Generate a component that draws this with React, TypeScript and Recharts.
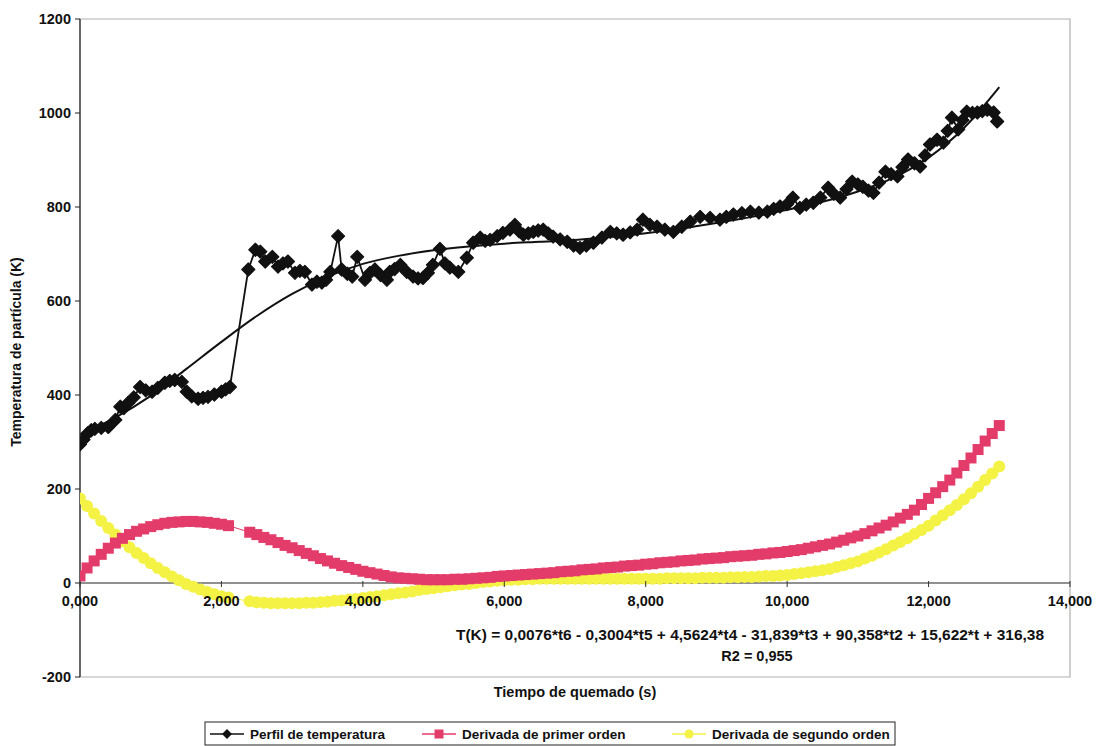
import React from 'react';
import { LineChart, Line, XAxis, YAxis, ReferenceLine, ReferenceArea } from 'recharts';

// ---- data (time in thousands of seconds, temperature in K) ----
const profileTime = [0.00,0.05,0.11,0.16,0.21,0.30,0.40,0.50,0.57,0.62,0.68,0.76,0.85,0.93,1.02,1.10,1.20,1.27,1.34,1.44,1.51,1.58,1.67,1.74,1.81,1.90,2.00,2.06,2.12,2.38,2.48,2.55,2.62,2.72,2.80,2.87,2.94,3.04,3.11,3.18,3.28,3.35,3.42,3.48,3.54,3.65,3.70,3.78,3.85,3.92,4.03,4.10,4.17,4.25,4.34,4.38,4.45,4.53,4.62,4.71,4.78,4.85,4.92,4.99,5.09,5.16,5.23,5.35,5.47,5.56,5.66,5.73,5.80,5.90,5.98,6.08,6.15,6.21,6.27,6.34,6.41,6.48,6.55,6.62,6.69,6.79,6.89,6.98,7.07,7.16,7.26,7.38,7.50,7.59,7.68,7.78,7.88,7.96,8.06,8.16,8.27,8.39,8.51,8.63,8.77,8.91,9.05,9.14,9.24,9.36,9.48,9.60,9.72,9.81,9.90,10.00,10.08,10.18,10.27,10.37,10.47,10.58,10.66,10.75,10.84,10.92,11.00,11.07,11.15,11.22,11.30,11.39,11.47,11.56,11.63,11.71,11.80,11.88,11.95,12.02,12.12,12.21,12.27,12.33,12.42,12.48,12.54,12.62,12.69,12.76,12.83,12.92,12.97];
const profileTemp = [295,305,319,325,328,330,332,347,375,372,383,395,417,410,407,415,426,430,432,428,407,397,392,394,396,401,407,412,417,667,709,705,684,694,673,680,684,660,664,662,635,641,639,645,662,738,667,658,652,694,645,660,667,655,645,662,668,677,662,652,648,649,660,677,711,680,671,662,692,724,735,728,730,738,745,752,762,748,741,744,747,750,752,744,737,731,726,718,713,718,724,735,747,744,741,746,752,773,762,758,752,747,758,769,779,777,773,779,784,787,790,788,790,796,801,806,820,798,805,809,820,841,828,820,838,854,848,843,835,830,852,875,870,865,885,901,893,886,910,933,943,937,962,990,965,985,1003,1000,1001,1004,1007,1001,982];

const trendTime = [0,0.5,1,1.5,2,2.5,3,3.5,4,4.5,5,5.5,6,6.5,7,7.5,8,8.5,9,9.5,10,10.5,11,11.5,12,12.5,13];
const trendTemp = [316,352,398,455,513,568,615,652,679,696,708,716,722,726,730,736,744,754,766,779,794,811,833,862,905,968,1055];

const derivTime = [0,0.1,0.2,0.3,0.4,0.5,0.6,0.7,0.8,0.9,1.0,1.1,1.2,1.3,1.4,1.5,1.6,1.7,1.8,1.9,2.0,2.1,2.4,2.5,2.6,2.7,2.8,2.9,3.0,3.1,3.2,3.3,3.4,3.5,3.6,3.7,3.8,3.9,4.0,4.1,4.2,4.3,4.4,4.5,4.6,4.7,4.8,4.9,5.0,5.1,5.2,5.3,5.4,5.5,5.6,5.7,5.8,5.9,6.0,6.1,6.2,6.3,6.4,6.5,6.6,6.7,6.8,6.9,7.0,7.1,7.2,7.3,7.4,7.5,7.6,7.7,7.8,7.9,8.0,8.1,8.2,8.3,8.4,8.5,8.6,8.7,8.8,8.9,9.0,9.1,9.2,9.3,9.4,9.5,9.6,9.7,9.8,9.9,10.0,10.1,10.2,10.3,10.4,10.5,10.6,10.7,10.8,10.9,11.0,11.1,11.2,11.3,11.4,11.5,11.6,11.7,11.8,11.9,12.0,12.1,12.2,12.3,12.4,12.5,12.6,12.7,12.8,12.9,13.0];
const firstDeriv = [15,32,47,61,74,85,95,103,110,115,120,124,127,129,130,131,131,130,129,127,125,122,108,103,97,92,86,80,75,69,63,58,52,47,42,37,33,29,25,22,19,16,13,11,10,9,8,7,7,7,7,8,8,9,10,11,12,14,15,16,17,18,19,20,21,22,24,25,26,28,29,30,32,33,34,36,37,38,40,41,43,44,45,47,48,49,51,52,53,54,56,57,58,59,61,62,64,65,67,69,71,74,77,80,83,87,91,96,100,105,111,117,123,130,138,146,155,167,180,192,205,219,234,250,266,284,302,318,335];
const secondDeriv = [180,164,148,132,117,103,89,76,64,53,42,32,23,14,6,-2,-8,-14,-19,-24,-28,-31,-39,-41,-42,-43,-43,-43,-43,-43,-42,-42,-41,-40,-38,-37,-35,-34,-32,-30,-28,-26,-24,-22,-20,-18,-15,-13,-11,-9,-7,-5,-3,-2,0,2,3,5,6,7,7,8,8,9,9,9,9,9,9,9,9,9,9,9,9,9,9,9,9,9,9,10,10,10,10,10,11,11,11,11,12,12,13,13,14,15,15,16,17,19,21,23,25,27,30,34,38,42,46,52,58,65,72,80,87,95,104,113,122,133,144,155,166,178,191,205,219,233,248];

const xTicks = [0, 2, 4, 6, 8, 10, 12, 14];
const yTicks = [-200, 0, 200, 400, 600, 800, 1000, 1200];
const legendLabels = ['Perfil de temperatura', 'Derivada de primer orden', 'Derivada de segundo orden'];
const equationText = 'T(K) = 0,0076*t6 - 0,3004*t5 + 4,5624*t4 - 31,839*t3 + 90,358*t2 + 15,622*t + 316,38';
const r2Text = 'R2 = 0,955';

const profileData = profileTime.map((t, i) => ({ t, v: profileTemp[i] }));
const trendData = trendTime.map((t, i) => ({ t, v: trendTemp[i] }));
const firstData = derivTime.map((t, i) => ({ t, v: firstDeriv[i] }));
const secondData = derivTime.map((t, i) => ({ t, v: secondDeriv[i] }));

const FONT = '"Liberation Sans", Arial, Helvetica, sans-serif';
const BLACK = '#111';
const PINK = '#e43c6a';
const YELLOW = '#f4f244';
const FS = 14.5;
const LFS = 13.5;

const W = 1100, H = 746;
const M = { top: 19, right: 30, bottom: 39, left: 0 };
const YW = 80, XH = 30;
const plotTop = M.top, plotBottom = H - M.bottom - XH;
const Y_MIN = -200, Y_MAX = 1200;
const zeroY = plotTop + (Y_MAX - 0) / (Y_MAX - Y_MIN) * (plotBottom - plotTop);

const Diamond = (props: any) => {
  const { cx, cy } = props;
  if (cx == null || cy == null) return null;
  const s = 6.5;
  return <polygon points={`${cx},${cy - s} ${cx + s},${cy} ${cx},${cy + s} ${cx - s},${cy}`} fill={BLACK} stroke={BLACK} strokeWidth={1.2} strokeLinejoin="round" />;
};
const Square = (props: any) => {
  const { cx, cy } = props;
  if (cx == null || cy == null) return null;
  return <rect x={cx - 5.5} y={cy - 5.5} width={11} height={11} fill={PINK} />;
};
const Dot = (props: any) => {
  const { cx, cy } = props;
  if (cx == null || cy == null) return null;
  return <circle cx={cx} cy={cy} r={6} fill={YELLOW} />;
};

const XTick = (props: any) => {
  const { x, payload } = props;
  const label = Number(payload.value).toFixed(3).replace('.', ',');
  return (
    <g>
      <line x1={x} x2={x} y1={zeroY - 2} y2={zeroY + 4} stroke="#333" strokeWidth={1} />
      <text x={x} y={zeroY + 23} textAnchor="middle" fontFamily={FONT} fontSize={FS} fontWeight="bold" fill="#111">{label}</text>
    </g>
  );
};

export default function App() {
  return (
    <div style={{ position: 'absolute', left: 0, top: 0, width: W, height: H, background: '#fff' }}>
      <LineChart width={W} height={H} margin={M}>
        <ReferenceArea x1={0} x2={14} y1={-200} y2={1200} fill="none" stroke="#b0b0b0" strokeWidth={1.2} ifOverflow="visible" />
        <XAxis type="number" dataKey="t" domain={[0, 14]} ticks={xTicks} height={XH} axisLine={false} tickLine={false} tick={<XTick />} interval={0} allowDataOverflow />
        <YAxis type="number" domain={[Y_MIN, Y_MAX]} ticks={yTicks} width={YW} axisLine={{ stroke: '#222', strokeWidth: 1.2 }} tickLine={{ stroke: '#222' }} tickSize={5} tickMargin={4} tick={{ fontFamily: FONT, fontSize: FS, fontWeight: 'bold', fill: '#111' }} interval={0} />
        <ReferenceLine y={0} stroke="#222" strokeWidth={1.2} />
        <Line data={secondData} dataKey="v" stroke={YELLOW} strokeWidth={1} dot={<Dot />} isAnimationActive={false} legendType="none" />
        <Line data={firstData} dataKey="v" stroke={PINK} strokeWidth={1} dot={<Square />} isAnimationActive={false} legendType="none" />
        <Line data={trendData} dataKey="v" type="monotone" stroke={BLACK} strokeWidth={2} dot={false} isAnimationActive={false} legendType="none" />
        <Line data={profileData} dataKey="v" stroke={BLACK} strokeWidth={1.8} dot={<Diamond />} isAnimationActive={false} legendType="none" />
      </LineChart>
      <svg width={W} height={H} style={{ position: 'absolute', left: 0, top: 0, pointerEvents: 'none' }}>
        <text x={17} y={352} transform="rotate(-90 17 352)" textAnchor="middle" dominantBaseline="middle" fontFamily={FONT} fontSize={14} fontWeight="bold" fill="#111">Temperatura de partícula (K)</text>
        <text x={575} y={697} textAnchor="middle" fontFamily={FONT} fontSize={FS} fontWeight="bold" fill="#111">Tiempo de quemado (s)</text>
        <text x={750} y={640} textAnchor="middle" fontFamily={FONT} fontSize={FS} fontWeight="bold" fill="#111" textLength={588} lengthAdjust="spacingAndGlyphs">{equationText}</text>
        <text x={757} y={661} textAnchor="middle" fontFamily={FONT} fontSize={FS} fontWeight="bold" fill="#111">{r2Text}</text>
        <rect x={205} y={722} width={690} height={23} fill="#fff" stroke="#222" strokeWidth={1} />
        <line x1={210} x2={244} y1={734} y2={734} stroke={BLACK} strokeWidth={1.5} />
        <polygon points="227,729 232,734 227,739 222,734" fill={BLACK} />
        <text x={250} y={739} fontFamily={FONT} fontSize={LFS} fontWeight="bold" fill="#111">{legendLabels[0]}</text>
        <line x1={422} x2={456} y1={734} y2={734} stroke={PINK} strokeWidth={1.5} />
        <rect x={434.5} y={729.5} width={9} height={9} fill={PINK} />
        <text x={462} y={739} fontFamily={FONT} fontSize={LFS} fontWeight="bold" fill="#111">{legendLabels[1]}</text>
        <line x1={672} x2={706} y1={734} y2={734} stroke={YELLOW} strokeWidth={1.5} />
        <circle cx={689} cy={734} r={4.5} fill={YELLOW} />
        <text x={712} y={739} fontFamily={FONT} fontSize={LFS} fontWeight="bold" fill="#111">{legendLabels[2]}</text>
      </svg>
    </div>
  );
}
